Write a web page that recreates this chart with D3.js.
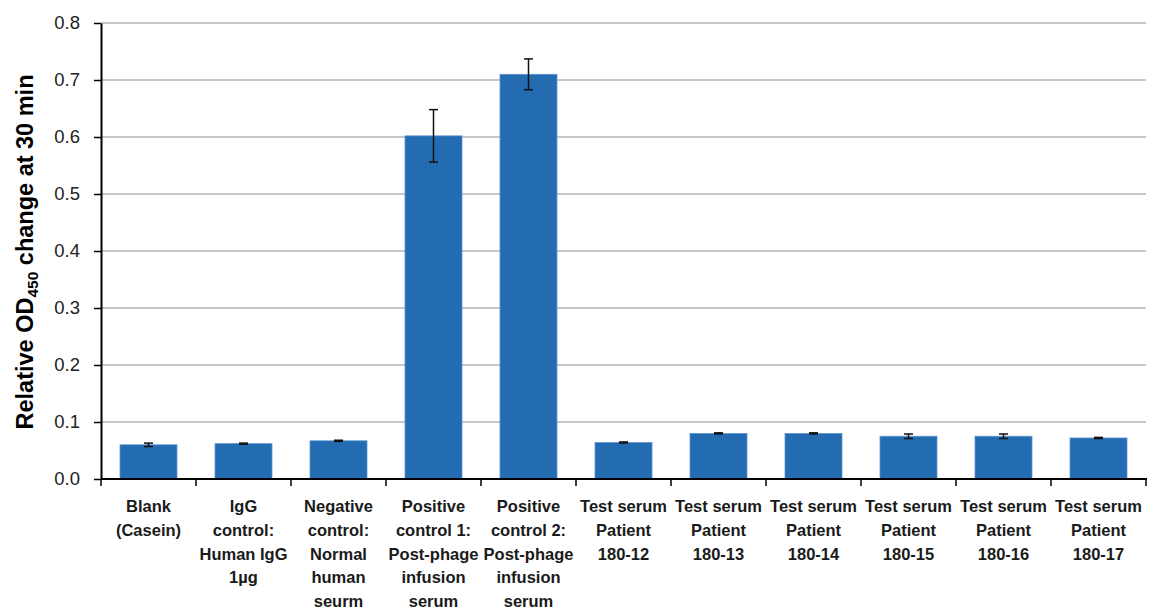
<!DOCTYPE html>
<html><head><meta charset="utf-8">
<script src="https://cdn.jsdelivr.net/npm/d3@7"></script>
<style>body{margin:0;background:#fff}svg{display:block}</style>
</head><body><svg id="c" width="1149" height="610"></svg>
<script>
const categories = [
  ["Blank","(Casein)"],
  ["IgG","control:","Human IgG","1µg"],
  ["Negative","control:","Normal","human","seurm"],
  ["Positive","control 1:","Post-phage","infusion","serum"],
  ["Positive","control 2:","Post-phage","infusion","serum"],
  ["Test serum","Patient","180-12"],
  ["Test serum","Patient","180-13"],
  ["Test serum","Patient","180-14"],
  ["Test serum","Patient","180-15"],
  ["Test serum","Patient","180-16"],
  ["Test serum","Patient","180-17"]
];
const values = [0.060, 0.062, 0.067, 0.602, 0.710, 0.064, 0.080, 0.080, 0.075, 0.075, 0.072];
const errors = [0.003, 0.001, 0.001, 0.046, 0.027, 0.001, 0.001, 0.001, 0.004, 0.004, 0.001];
const yTicks = [0, 0.1, 0.2, 0.3, 0.4, 0.5, 0.6, 0.7, 0.8];

const svg = d3.select("#c");
const L = 101, R = 1146, T = 23, B = 479;
const x = d3.scaleBand().domain(d3.range(categories.length)).range([L, R]).paddingInner(0.4).paddingOuter(0.2);
const y = d3.scaleLinear().domain([0, 0.8]).range([B, T]);

// gridlines
svg.append("g").selectAll("line").data(yTicks.filter(d => d > 0)).join("line")
  .attr("x1", L).attr("x2", R).attr("y1", d => y(d)).attr("y2", d => y(d))
  .attr("stroke", "#b4b4b4").attr("stroke-width", 1.6);

// bars
svg.append("g").selectAll("rect").data(values).join("rect")
  .attr("x", (d, i) => x(i)).attr("width", x.bandwidth())
  .attr("y", d => y(d)).attr("height", d => B - y(d))
  .attr("fill", "#236cb2").attr("stroke", "#5e95cf").attr("stroke-width", 0.8);

// error bars
const eg = svg.append("g").attr("stroke", "#111").attr("stroke-width", 1.5);
values.forEach((v, i) => {
  const cx = x(i) + x.bandwidth() / 2;
  const y1 = y(v + errors[i]), y2 = y(v - errors[i]);
  eg.append("line").attr("x1", cx).attr("x2", cx).attr("y1", y1).attr("y2", y2);
  eg.append("line").attr("x1", cx - 4.5).attr("x2", cx + 4.5).attr("y1", y1).attr("y2", y1);
  eg.append("line").attr("x1", cx - 4.5).attr("x2", cx + 4.5).attr("y1", y2).attr("y2", y2);
});

// y axis
const ya = svg.append("g").attr("transform", `translate(${L},0)`)
  .call(d3.axisLeft(y).tickValues(yTicks).tickFormat(d3.format(".1f")).tickSize(7).tickSizeOuter(0));
ya.select(".domain").attr("stroke", "#000").attr("stroke-width", 2);
ya.selectAll(".tick line").attr("stroke", "#000").attr("stroke-width", 1.5);
ya.selectAll(".tick text").attr("font-family", "Liberation Sans, Arial, sans-serif")
  .attr("font-size", 18.5).attr("fill", "#222").attr("x", -21);

// x axis
const xa = svg.append("g");
xa.append("line").attr("x1", L).attr("x2", R + 1).attr("y1", B).attr("y2", B)
  .attr("stroke", "#000").attr("stroke-width", 2);
const bounds = d3.range(categories.length + 1).map(i => i === 0 ? L : x(i - 1) + x.bandwidth() + x.step() * x.paddingInner() / 2);
xa.selectAll("line.t").data(bounds).join("line").attr("class", "t")
  .attr("x1", d => d).attr("x2", d => d).attr("y1", B).attr("y2", B + 7)
  .attr("stroke", "#000").attr("stroke-width", 1.5);

const lab = svg.append("g").attr("font-family", "Liberation Sans, Arial, sans-serif")
  .attr("font-size", 16.5).attr("font-weight", "bold").attr("fill", "#1a1a1a").attr("text-anchor", "middle");
categories.forEach((lines, i) => {
  const cx = x(i) + x.bandwidth() / 2;
  const t = lab.append("text").attr("x", cx).attr("y", 512);
  lines.forEach((s, j) => t.append("tspan").attr("x", cx).attr("dy", j === 0 ? 0 : 23.8).text(s));
});

// y title
const yt = svg.append("text").attr("transform", `translate(33,${(T + B) / 2 + 1}) rotate(-90)`)
  .attr("text-anchor", "middle").attr("font-family", "Liberation Sans, Arial, sans-serif")
  .attr("font-size", 23.5).attr("font-weight", "bold").attr("fill", "#000");
yt.append("tspan").text("Relative OD");
yt.append("tspan").attr("font-size", 15.5).attr("dy", 5).text("450");
yt.append("tspan").attr("dy", -5).text(" change at 30 min");
</script></body></html>
